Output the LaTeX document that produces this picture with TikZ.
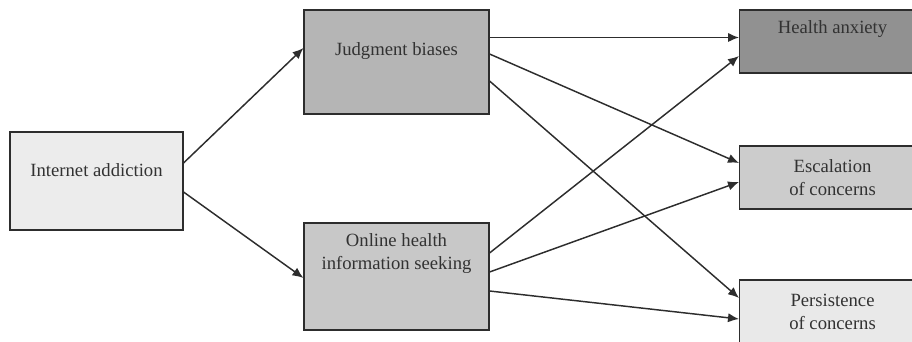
\documentclass[tikz,border=0pt]{standalone}
\usepackage{fontspec}
\setmainfont{Liberation Serif}
\usepackage{tikz}
\usetikzlibrary{arrows.meta,calc}
\definecolor{HcLine}{RGB}{45,45,45}
\definecolor{HcText}{RGB}{50,50,50}
\definecolor{HcPale}{RGB}{236,236,236}
\definecolor{HcMid}{RGB}{181,181,181}
\definecolor{HcSoft}{RGB}{200,200,200}
\definecolor{HcDark}{RGB}{145,145,145}
\definecolor{HcLight}{RGB}{204,204,204}
\definecolor{HcFaint}{RGB}{233,233,233}
\tikzset{
  hc/box/.style={
    draw=HcLine,
    line width=0.8pt,
    align=center,
    text=HcText,
    inner sep=0pt,
    font=\fontsize{14}{17.5}\selectfont
  },
  hc/outcome/.style={
    hc/box,
    anchor=west,
    minimum width=139.5pt,
    minimum height=47.25pt
  },
  hc/arrow/.style={-{Latex[length=8.25pt,width=7pt]}, line width=1.1pt, draw=HcLine}
}

\begin{document}
\begin{tikzpicture}[x=0.75pt,y=0.75pt]
  \useasboundingbox (0,0) rectangle (912,342);
  \clip (0,0) rectangle (912,342);
  \node[hc/box, fill=HcPale, minimum width=129.75pt, minimum height=73.5pt, text depth=16pt] (ia) at (96.5,161) {Internet addiction};
  \node[hc/box, fill=HcMid, minimum width=138.75pt, minimum height=78pt, text depth=20pt] (jb) at (396.5,280) {Judgment biases};
  \node[hc/box, fill=HcSoft, minimum width=138.75pt, minimum height=80.25pt, text depth=37pt] (oh) at (396.5,65.5) {Online health\\information seeking};
  \node[hc/outcome, fill=HcDark, text depth=22pt] (ha) at (739,300.5) {Health anxiety};
  \node[hc/outcome, fill=HcLight] (esc) at (739,164.5) {Escalation\\of concerns};
  \node[hc/outcome, fill=HcFaint, minimum height=48pt] (pc) at (739,30) {Persistence\\of concerns};
  \draw[hc/arrow] ($(ia.east)+(0,18)$) -- ($(jb.west)+(0,14)$);
  \draw[hc/arrow] ($(ia.east)+(0,-11)$) -- ($(oh.west)+(0,-1.5)$);
  \foreach \a/\da/\b/\db in {jb/24.5/ha/4,jb/8/esc/14.5,jb/-19/pc/14,oh/23.5/ha/-14.5,oh/4.5/esc/-4.5,oh/-14.5/pc/-7}{
    \draw[hc/arrow] ($(\a.east)+(0,\da)$) -- ($(\b.west)+(0,\db)$);
  }
\end{tikzpicture}
\end{document}
